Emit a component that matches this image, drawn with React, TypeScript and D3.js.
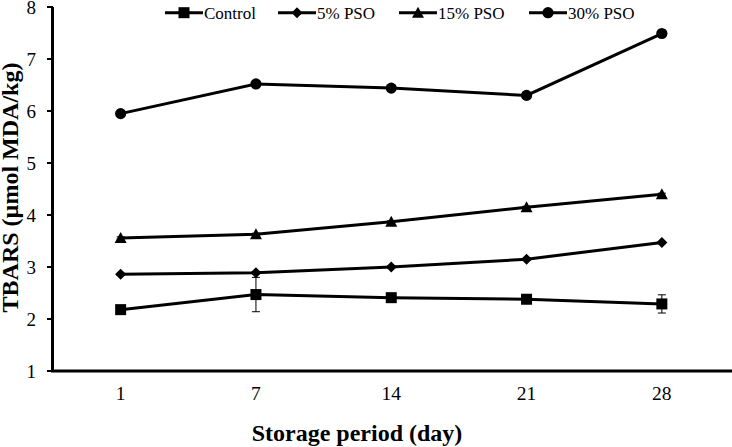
import React from "react";
import * as d3 from "d3";

const days = ["1", "7", "14", "21", "28"];
const control = [2.18, 2.47, 2.41, 2.38, 2.29];
const pso5 = [2.86, 2.89, 3.0, 3.15, 3.47];
const pso15 = [3.56, 3.63, 3.87, 4.15, 4.4];
const pso30 = [5.95, 6.52, 6.44, 6.3, 7.49];
const controlErr = [0.02, 0.33, 0.03, 0.03, 0.175];
const pso5Err = [0.02, 0.02, 0.02, 0.02, 0.02];
const pso15Err = [0.02, 0.02, 0.02, 0.02, 0.02];
const pso30Err = [0.03, 0.03, 0.03, 0.03, 0.05];
const seriesNames = ["Control", "5% PSO", "15% PSO", "30% PSO"];
const yTicks = [1, 2, 3, 4, 5, 6, 7, 8];

const W = 732;
const H = 447;
const font = "'Liberation Serif', 'Times New Roman', 'DejaVu Serif', serif";
const ts = { fontFamily: font };

const x = d3.scaleBand<string>().domain(days).range([53, 729.5]);
const cx = (d: string) => (x(d) as number) + x.bandwidth() / 2;
const y = d3.scaleLinear().domain([1, 8]).range([371, 7]);

function Marker({ kind, px, py }: { kind: string; px: number; py: number }) {
  if (kind === "square") return <rect x={px - 5.5} y={py - 5.5} width={11} height={11} fill="#000" />;
  if (kind === "diamond")
    return <path d={`M${px},${py - 5.5}L${px + 5.5},${py}L${px},${py + 5.5}L${px - 5.5},${py}Z`} fill="#000" />;
  if (kind === "triangle")
    return <path d={`M${px},${py - 6}L${px + 6},${py + 5}L${px - 6},${py + 5}Z`} fill="#000" />;
  return <circle cx={px} cy={py} r={5.6} fill="#000" />;
}

export default function App() {
  const series = [
    { name: seriesNames[0], values: control, err: controlErr, kind: "square" },
    { name: seriesNames[1], values: pso5, err: pso5Err, kind: "diamond" },
    { name: seriesNames[2], values: pso15, err: pso15Err, kind: "triangle" },
    { name: seriesNames[3], values: pso30, err: pso30Err, kind: "circle" },
  ];
  const line = d3
    .line<number>()
    .x((_, i) => cx(days[i]))
    .y((v) => y(v));
  const legendX = [165, 278, 399, 529];

  return (
    <svg width={W} height={H} style={{ position: "absolute", left: 0, top: 0, background: "#fff" }}>
      <rect width={W} height={H} fill="#fff" />
      {/* axes */}
      <line x1={52.5} x2={52.5} y1={y(8)} y2={y(1) + 1} stroke="#000" strokeWidth={3} />
      <line x1={51} x2={732} y1={y(1)} y2={y(1)} stroke="#000" strokeWidth={3} />
      {yTicks.map((t) => (
        <g key={t}>
          <line x1={47} x2={53} y1={y(t)} y2={y(t)} stroke="#000" strokeWidth={2} />
          <text x={36} y={y(t) + 6.5} textAnchor="end" fontSize={19} style={ts}>
            {t}
          </text>
        </g>
      ))}
      {days.map((d) => (
        <text key={d} x={cx(d)} y={400} textAnchor="middle" fontSize={19.5} style={ts}>
          {d}
        </text>
      ))}
      <text x={357} y={441} textAnchor="middle" fontSize={24} fontWeight="bold" style={ts}>
        Storage period (day)
      </text>
      <text
        transform={`translate(18,187.5) rotate(-90)`}
        textAnchor="middle"
        fontSize={24}
        fontWeight="bold"
        style={ts}
      >
        TBARS (µmol MDA/kg)
      </text>
      {/* series */}
      {series.map((s) => (
        <g key={s.name}>
          <path d={line(s.values) || ""} fill="none" stroke="#000" strokeWidth={3} />
          {s.values.map((v, i) => {
            const px = cx(days[i]);
            const top = y(v + s.err[i]);
            const bot = y(v - s.err[i]);
            return (
              <g key={i}>
                <line x1={px} x2={px} y1={top} y2={bot} stroke="#000" strokeWidth={1} />
                <line x1={px - 4} x2={px + 4} y1={top} y2={top} stroke="#000" strokeWidth={1} />
                <line x1={px - 4} x2={px + 4} y1={bot} y2={bot} stroke="#000" strokeWidth={1} />
                <Marker kind={s.kind} px={px} py={y(v)} />
              </g>
            );
          })}
        </g>
      ))}
      {/* legend */}
      {series.map((s, i) => (
        <g key={s.name}>
          <line x1={legendX[i]} x2={legendX[i] + 38} y1={12.7} y2={12.7} stroke="#000" strokeWidth={3} />
          <Marker kind={s.kind} px={legendX[i] + 19} py={12.7} />
          <text x={legendX[i] + 39} y={18.5} fontSize={17} style={ts}>
            {s.name}
          </text>
        </g>
      ))}
    </svg>
  );
}
